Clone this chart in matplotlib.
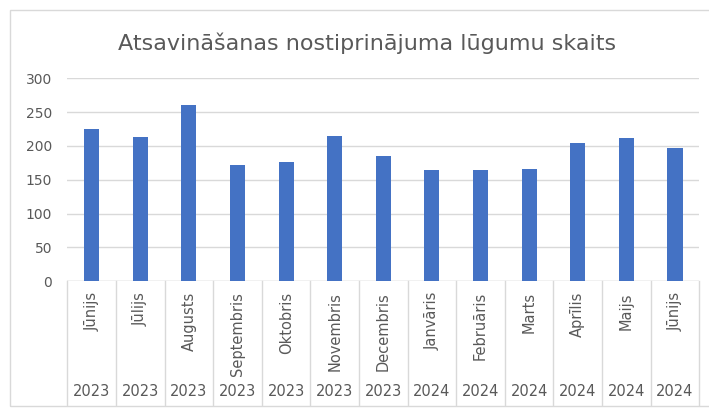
import matplotlib
matplotlib.use("Agg")
import matplotlib.pyplot as plt
from matplotlib.patches import Rectangle
from matplotlib.lines import Line2D

months = ["Jūnijs", "Jūlijs", "Augusts", "Septembris", "Oktobris", "Novembris",
          "Decembris", "Janvāris", "Februāris", "Marts", "Aprīlis", "Maijs", "Jūnijs"]
years = ["2023", "2023", "2023", "2023", "2023", "2023", "2023",
         "2024", "2024", "2024", "2024", "2024", "2024"]
values = [225, 213, 261, 172, 177, 215, 185, 165, 164, 166, 204, 212, 197]
yticks = [0, 50, 100, 150, 200, 250, 300]
title = "Atsavināšanas nostiprinājuma lūgumu skaits"

W, H = 709, 409
fig = plt.figure(figsize=(W / 100, H / 100), dpi=100)
plt.rcParams['font.family'] = ['DejaVu Sans']

TXT = "#595959"
GRID = "#D9D9D9"
BAR = "#4472C4"

# plot area in pixels
x0, x1 = 67.4, 699.3
ytop, ybot = 78.3, 281.3
ax = fig.add_axes([x0 / W, (H - ybot) / H, (x1 - x0) / W, (ybot - ytop) / H])

n = len(values)
xs = list(range(n))
ax.bar(xs, values, width=0.31, color=BAR, zorder=3)
ax.set_xlim(-0.5, n - 0.5)
ax.set_ylim(0, 300)
ax.set_yticks(yticks)
ax.set_yticklabels([str(v) for v in yticks], color=TXT, fontsize=10)
ax.tick_params(axis='y', length=0, pad=11)
ax.set_xticks([])
ax.grid(axis='y', color=GRID, linewidth=1.0, zorder=0)
for s in ax.spines.values():
    s.set_visible(False)
ax.axhline(0, color=GRID, linewidth=1.0, zorder=2)

trans = ax.get_xaxis_transform()
axh = ybot - ytop
sep_bottom = (ybot - 405) / axh
month_top = (ybot - 292) / axh
year_y = (ybot - 392) / axh
for i in range(n + 1):
    ax.add_line(Line2D([i - 0.5, i - 0.5], [0, sep_bottom], transform=trans,
                       color=GRID, linewidth=1.0, clip_on=False))
for i, (m, y) in enumerate(zip(months, years)):
    ax.text(i, month_top, m, transform=trans, rotation=90, ha='center', va='top',
            fontsize=10.5, color=TXT)
    ax.text(i, year_y, y, transform=trans, ha='center', va='center',
            fontsize=10.5, color=TXT)

fig.text(367 / W, 1 - 43 / H, title, ha='center', va='center', fontsize=16, color=TXT)

# chart border (right edge lies outside the image)
fig.add_artist(Rectangle((10 / W, 1 - 406 / H), (W + 10) / W, (406 - 10) / H,
                         transform=fig.transFigure, fill=False, edgecolor=GRID,
                         linewidth=1.0, clip_on=False))

fig.savefig("out.png", dpi=100, facecolor="white")
